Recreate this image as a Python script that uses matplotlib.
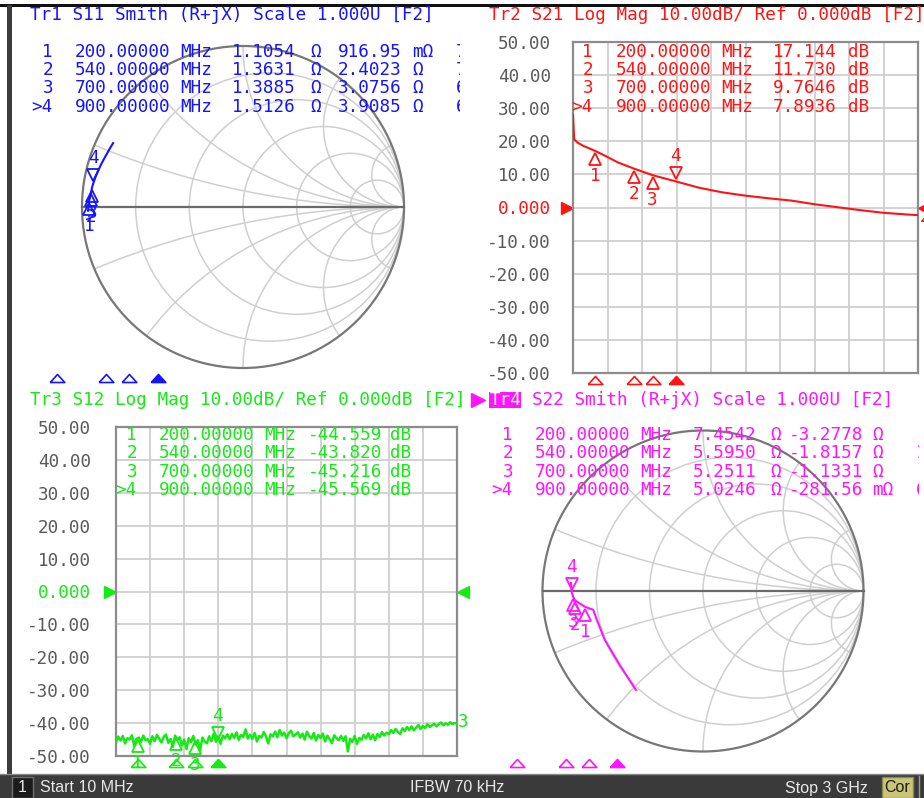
import numpy as np
import matplotlib
matplotlib.use('Agg')
import matplotlib.pyplot as plt
import matplotlib.transforms as mtransforms
from matplotlib.patches import Circle, Rectangle
from matplotlib.ticker import LinearLocator

W, H = 924, 798
MONO = 'DejaVu Sans Mono'
FS = 12.7

BLUE = '#1414ff'
RED = '#ff1414'
GREEN = '#14ea14'
MAGENTA = '#ff14ff'
GRID = '#cfcfcf'
LABEL = '#5a5a5a'

# ---- data ----
MARK_FREQ = [200, 540, 700, 900]          # MHz
MARK_NUM = ['1', '2', '3', '>4']

# Tr1 S11 (R + jX, ohm)
S11_FREQ = [10, 100, 200, 540, 700, 900, 1200, 1500, 1800, 2100, 2400, 2700, 3000]
S11_R = [0.95, 1.05, 1.1054, 1.3631, 1.3885, 1.5126, 1.7, 1.9, 2.1, 2.3, 2.5, 2.65, 2.8]
S11_X = [-0.6, 0.3, 0.91695, 2.4023, 3.0756, 3.9085, 5.0, 6.1, 7.2, 8.3, 9.4, 10.5, 11.6]
S11_MARK_R = [1.1054, 1.3631, 1.3885, 1.5126]
S11_MARK_X = [0.91695, 2.4023, 3.0756, 3.9085]
S11_EXTRA = ['729.70 pH', '708.03 pH', '699.28 pH', '691.18 pH']

# Tr2 S21 log mag (dB)
S21_FREQ = [10, 20, 50, 100, 200, 300, 400, 540, 700, 900, 1100, 1300, 1500,
            1700, 1900, 2100, 2300, 2500, 2700, 2900, 3000]
S21_DB = [28.0, 20.6, 19.6, 18.6, 17.144, 15.4, 13.6, 11.73, 9.7646, 7.8936, 6.0,
          4.6, 3.6, 2.8, 2.1, 1.0, 0.1, -0.8, -1.6, -2.1, -2.3]
S21_MARK = [17.144, 11.730, 9.7646, 7.8936]

# Tr3 S12 log mag (dB), 151 sweep points 10 MHz .. 3 GHz
S12_DB = [
    -45.8, -44.1, -45.3, -43.9, -46.2, -44.6, -45.0, -43.7, -46.9, -44.8,
    -44.4, -45.7, -43.8, -45.2, -44.9, -46.3, -44.0, -45.5, -43.6, -44.7,
    -45.9, -44.2, -43.5, -46.0, -44.8, -47.2, -43.8, -45.1, -44.3, -46.8,
    -45.0, -47.9, -44.6, -45.8, -43.9, -46.5, -45.2, -48.3, -44.4, -45.6,
    -46.1, -44.0, -45.5, -43.2, -45.7, -44.1, -46.3, -43.8, -44.6, -43.4,
    -44.9, -43.3, -44.5, -42.8, -45.1, -43.6, -44.2, -41.9, -44.7, -43.5,
    -44.8, -43.0, -45.6, -43.9, -44.4, -42.7, -44.1, -46.2, -43.4, -44.0,
    -42.6, -44.3, -42.1, -43.8, -42.9, -44.6, -43.1, -42.3, -44.0, -43.5,
    -42.8, -44.4, -43.2, -45.0, -42.6, -43.9, -44.7, -43.0, -45.3, -43.6,
    -44.5, -43.2, -45.6, -43.8, -44.9, -46.1, -43.7, -44.6, -45.2, -43.9,
    -45.4, -44.0, -48.6, -44.8, -45.7, -43.9, -46.3, -44.5, -45.1, -43.6,
    -44.7, -43.1, -44.9, -43.5, -45.2, -43.3, -44.2, -42.7, -43.8, -42.9,
    -43.4, -42.1, -43.0, -41.8, -42.7, -43.3, -41.6, -42.4, -41.2, -42.1,
    -41.0, -42.2, -41.4, -40.6, -41.8, -40.9, -41.5, -40.3, -41.2, -40.7,
    -40.2, -41.0, -40.4, -39.8, -40.7, -40.1, -40.5, -39.7, -40.3, -40.0, -40.2,
]
S12_FREQ = np.linspace(10, 3000, len(S12_DB))
S12_MARK = [-44.559, -43.820, -45.216, -45.569]

# Tr4 S22 (R + jX, ohm)
S22_FREQ = [10, 40, 80, 120, 160, 200, 540, 700, 900, 1500, 2200, 3000]
S22_R = [9.3, 10.3, 9.9, 9.5, 9.1, 7.4542, 5.595, 5.2511, 5.0246, 4.95, 4.9, 4.84]
S22_X = [-25.8, -18.3, -11.3, -6.5, -4.1, -3.2778, -1.8157, -1.1331, -0.28156, 0.4, 1.0, 1.5]
S22_MARK_R = [7.4542, 5.5950, 5.2511, 5.0246]
S22_MARK_X = [-3.2778, -1.8157, -1.1331, -0.28156]
S22_EXTRA = [None, '162.30 pF', None, '628.10 pF']

TICKS = [50, 40, 30, 20, 10, 0, -10, -20, -30, -40, -50]
TICK_LABELS = ['50.00', '40.00', '30.00', '20.00', '10.00', '0.000',
               '-10.00', '-20.00', '-30.00', '-40.00', '-50.00']
R_CIRCLES = [0.2, 0.5, 1, 2, 5]
X_ARCS = [0.2, 0.5, 1, 2, 5]

fig = plt.figure(figsize=(W / 100, H / 100), dpi=100)
fig.patch.set_facecolor('white')


def px_axes(x0, y0, x1, y1):
    return fig.add_axes([x0 / W, 1 - y1 / H, (x1 - x0) / W, (y1 - y0) / H])


def shifted(base, dx, dy):
    # dx, dy in pixels, dy positive = up
    return base + mtransforms.ScaledTranslation(dx / 100, dy / 100, fig.dpi_scale_trans)


def ohm(v):
    if abs(v) < 1:
        return f"{v * 1000:#.5g}", 'mΩ'
    return f"{v:#.5g}", 'Ω'


def trace_marker(ax, x, y, label, color, above):
    sgn = 1 if above else -1
    ax.plot([x], [y], marker='v' if above else '^', ms=9, mfc='none', mec=color,
            mew=1.3, transform=shifted(ax.transData, 0, 8 * sgn), clip_on=False, zorder=6)
    ax.annotate(label, (x, y), xytext=(0, 25 * sgn), textcoords='offset pixels',
                ha='center', va='center', color=color, family=MONO, fontsize=FS,
                annotation_clip=False, zorder=6)


def stim_markers(ax, trans, color):
    tri = [(-1, -0.55), (1, -0.55), (0, 0.55), (-1, -0.55)]
    ax.plot(MARK_FREQ[:3], [0] * 3, marker=tri, ls='none', ms=10.5, mfc='none', mec=color,
            mew=1.2, transform=trans, clip_on=False)
    ax.plot(MARK_FREQ[3:], [0], marker=tri, ls='none', ms=10.5, mfc=color, mec=color,
            mew=1.2, transform=trans, clip_on=False)


def logmag_panel(box, pad, freq, db, marks, color, lw):
    ax = px_axes(*box)
    ax.set_xlim(10, 3000)
    ax.set_ylim(-50, 50)
    ax.xaxis.set_major_locator(LinearLocator(11))
    ax.set_yticks(TICKS)
    ax.set_yticklabels(TICK_LABELS)
    ax.tick_params(axis='x', length=0, labelbottom=False)
    ax.tick_params(axis='y', length=0, pad=pad, labelsize=FS, labelcolor=LABEL)
    for lab in ax.get_yticklabels():
        lab.set_family(MONO)
    ax.get_yticklabels()[5].set_color(color)
    ax.grid(True, color=GRID, lw=1.3)
    ax.set_axisbelow(True)
    for s in ax.spines.values():
        s.set_color('#8c8c8c')
        s.set_linewidth(1.6)
    ax.plot(freq, db, color=color, lw=lw, zorder=4)
    for i, (f, v) in enumerate(zip(MARK_FREQ, marks)):
        trace_marker(ax, f, v, str(i + 1), color, above=(i == 3))
    bt = mtransforms.blended_transform_factory(ax.transData, ax.transAxes)
    stim_markers(ax, shifted(bt, 0, -7), color)
    # reference position arrows
    yt = mtransforms.blended_transform_factory(ax.transAxes, ax.transData)
    ax.plot([0], [0], marker='>', ms=9, color=color, transform=shifted(yt, -6, 0), clip_on=False)
    ax.plot([1], [0], marker='<', ms=9, color=color, transform=shifted(yt, 6, 0), clip_on=False)
    return ax


def smith_panel(cx, cy, r, R, X, mR, mX, color):
    ax = px_axes(cx - r, cy - r, cx + r, cy + r)
    ax.set_xlim(-1, 1)
    ax.set_ylim(-1, 1)
    ax.axis('off')
    clip = Circle((0, 0), 1, transform=ax.transData)
    for rr in R_CIRCLES:
        c = Circle((rr / (1 + rr), 0), 1 / (1 + rr), fill=False, ec=GRID, lw=1.1)
        ax.add_patch(c)
        c.set_clip_path(clip)
    for xx in X_ARCS:
        for s in (1, -1):
            c = Circle((1, s / xx), 1 / xx, fill=False, ec=GRID, lw=1.1)
            ax.add_patch(c)
            c.set_clip_path(clip)
    ax.add_patch(Circle((0, 0), 1, fill=False, ec='#777777', lw=1.6, clip_on=False, zorder=3))
    ax.plot([-1, 1], [0, 0], color='#6a6a6a', lw=1.6, clip_on=False, zorder=3)
    z = np.array(R) + 1j * np.array(X)
    g = (z - 50) / (z + 50)
    ax.plot(g.real, g.imag, color=color, lw=1.5, zorder=4)
    zm = np.array(mR) + 1j * np.array(mX)
    gm = (zm - 50) / (zm + 50)
    for i, p in enumerate(gm):
        trace_marker(ax, p.real, p.imag, str(i + 1), color, above=(i == 3))
    return ax


# ---- panels ----
smith_panel(243, 207, 161, S11_R, S11_X, S11_MARK_R, S11_MARK_X, BLUE)
s1 = px_axes(30, 372, 461, 384)
s1.set_xlim(10, 3000)
s1.set_ylim(-1, 1)
s1.axis('off')
stim_markers(s1, s1.transData, BLUE)

ax2 = logmag_panel((573, 42, 918, 373), 16, S21_FREQ, S21_DB, S21_MARK, RED, 1.5)
ax3 = logmag_panel((116, 427, 457, 756), 18, S12_FREQ, S12_DB, S12_MARK, GREEN, 1.8)

smith_panel(703, 591, 160.5, S22_R, S22_X, S22_MARK_R, S22_MARK_X, MAGENTA)
s4 = px_axes(490, 757, 917, 769)
s4.set_xlim(10, 3000)
s4.set_ylim(-1, 1)
s4.axis('off')
stim_markers(s4, s4.transData, MAGENTA)

# ---- overlay: titles, marker tables, frame, status bar ----
ov = px_axes(0, 0, W, H)
ov.set_xlim(0, W)
ov.set_ylim(H, 0)
ov.axis('off')


def txt(x, y, s, color, ha='left', **kw):
    return ov.text(x, y, s, color=color, ha=ha, va='center', family=MONO, fontsize=FS, **kw)


ov.add_patch(Rectangle((0, 3.5), W, 3, color='#101010', lw=0))
ov.add_patch(Rectangle((7, 5), 5, 770, color='#3c3c3c', lw=0))

txt(30, 15, 'Tr1 S11 Smith (R+jX) Scale 1.000U [F2]', BLUE)
txt(489, 15, 'Tr2 S21 Log Mag 10.00dB/ Ref 0.000dB [F2]', RED)
txt(30, 400, 'Tr3 S12 Log Mag 10.00dB/ Ref 0.000dB [F2]', GREEN)
ov.plot([478], [400], marker='>', ms=10, color=MAGENTA)
ov.add_patch(Rectangle((489, 392), 32, 16, color=MAGENTA, lw=0))
txt(490, 400, 'Tr4', 'white')
txt(532, 400, 'S22 Smith (R+jX) Scale 1.000U [F2]', MAGENTA)

rows_top = [52, 70, 88, 107]
rows_bot = [435, 453, 472, 490]

clip1 = mtransforms.Bbox.from_extents(0, 0, 460, H)
clip4 = mtransforms.Bbox.from_extents(0, 0, 919, H)
for i, y in enumerate(rows_top):
    # Tr1
    txt(53, y, MARK_NUM[i], BLUE, ha='right')
    txt(75, y, f"{MARK_FREQ[i]:.5f}", BLUE)
    txt(180, y, 'MHz', BLUE)
    v, u = ohm(S11_MARK_R[i])
    txt(232, y, v, BLUE)
    txt(310, y, u, BLUE)
    v, u = ohm(S11_MARK_X[i])
    txt(338, y, v, BLUE)
    txt(412, y, u, BLUE)
    t = txt(456, y, S11_EXTRA[i], BLUE)
    t.set_clip_box(clip1)
    t.set_clip_on(True)
    # Tr2
    txt(593, y, MARK_NUM[i], RED, ha='right')
    txt(616, y, f"{MARK_FREQ[i]:.5f}", RED)
    txt(721, y, 'MHz', RED)
    txt(773, y, f"{S21_MARK[i]:#.5g}", RED)
    txt(848, y, 'dB', RED)

for i, y in enumerate(rows_bot):
    # Tr3
    txt(137, y, MARK_NUM[i], GREEN, ha='right')
    txt(159, y, f"{MARK_FREQ[i]:.5f}", GREEN)
    txt(264, y, 'MHz', GREEN)
    txt(308, y, f"{S12_MARK[i]:#.5g}", GREEN)
    txt(390, y, 'dB', GREEN)
    # Tr4
    txt(513, y, MARK_NUM[i], MAGENTA, ha='right')
    txt(535, y, f"{MARK_FREQ[i]:.5f}", MAGENTA)
    txt(640, y, 'MHz', MAGENTA)
    v, u = ohm(S22_MARK_R[i])
    txt(693, y, v, MAGENTA)
    txt(770, y, u, MAGENTA)
    v, u = ohm(S22_MARK_X[i])
    txt(789, y, v, MAGENTA)
    txt(872, y, u, MAGENTA)
    if S22_EXTRA[i]:
        t = txt(916, y, S22_EXTRA[i], MAGENTA)
        t.set_clip_box(clip4)
        t.set_clip_on(True)

# trace number tags at the right end of the log mag traces
txt(920, 217, '2', RED)
txt(458, 722, '3', GREEN)

# status bar
ov.add_patch(Rectangle((0, 774), W, H - 774, color='#3a3a3a', lw=0))
ov.plot([0, W], [774, 774], color='#8a8a8a', lw=1)
ov.add_patch(Rectangle((12, 777), 21, 21, fc='#1b1b1b', ec='#707070', lw=1))
ov.text(22.5, 788, '1', color='#e8e8e8', ha='center', va='center', family='Liberation Sans', fontsize=11.5)
ov.text(40, 788, 'Start 10 MHz', color='#e8e8e8', ha='left', va='center', family='Liberation Sans', fontsize=11.5)
ov.text(410, 788, 'IFBW 70 kHz', color='#e8e8e8', ha='left', va='center', family='Liberation Sans', fontsize=11.5)
ov.text(785, 788, 'Stop 3 GHz', color='#e8e8e8', ha='left', va='center', family='Liberation Sans', fontsize=11.5)
ov.add_patch(Rectangle((882, 777), 31, 21, fc='#c9c476', ec='#8a8650', lw=1))
ov.text(897.5, 788, 'Cor', color='#1a1a1a', ha='center', va='center', family='Liberation Sans', fontsize=11.5)
ov.plot([919, 919], [776, 798], color='#9a9a9a', lw=1)

fig.savefig('out.png', dpi=100)
